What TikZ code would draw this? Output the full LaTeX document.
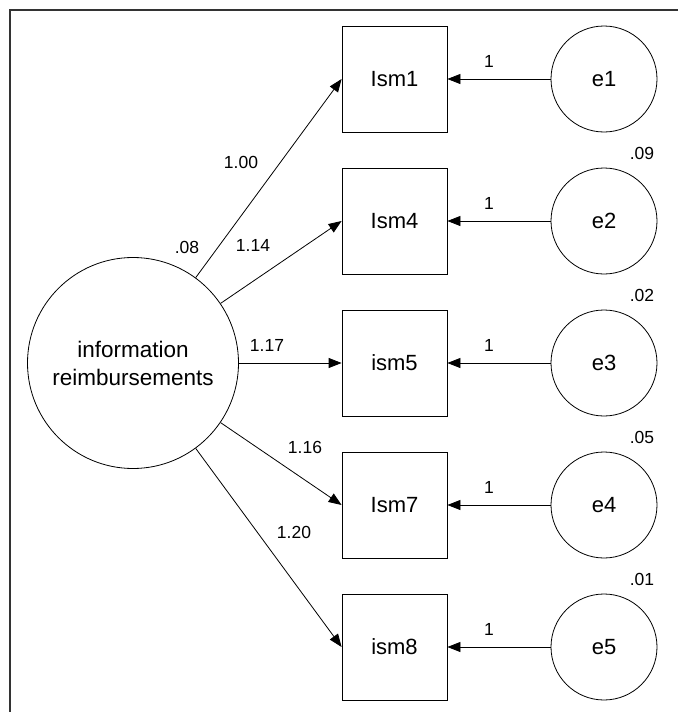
\documentclass[tikz,border=0pt]{standalone}
\usepackage{fontspec}
\setmainfont{Liberation Sans}
\usetikzlibrary{arrows.meta}
\begin{document}
\begin{tikzpicture}[x=1pt,y=-1pt,
  latent/.style={draw,circle,inner sep=0pt,line width=0.8pt},
  factor/.style={latent,minimum size=211pt,align=center,font=\fontsize{22.5}{28}\selectfont},
  obs/.style={draw,rectangle,minimum width=105pt,minimum height=106pt,inner sep=0pt,line width=0.8pt,font=\fontsize{22}{26}\selectfont},
  err/.style={latent,minimum size=106pt,font=\fontsize{22}{26}\selectfont},
  lbl/.style={font=\fontsize{17.5}{20}\selectfont,inner sep=0pt},
  arr/.style={line width=0.8pt,-{Triangle[length=13pt,width=10pt]}},
  frameline/.style={line width=1.5pt,black!80}]
\useasboundingbox (0,0) rectangle (678,712);
\draw[frameline] (10,712) -- (10,10) -- (678,10);

\node[factor] (F) at (133,363) {information\\reimbursements};

\node[obs] (b1) at (394.5,79) {Ism1};
\node[obs] (b2) at (394.5,221) {Ism4};
\node[obs] (b3) at (394.5,363) {ism5};
\node[obs] (b4) at (394.5,505) {Ism7};
\node[obs] (b5) at (394.5,647) {ism8};

\node[err] (e1) at (604,79) {e1};
\node[err] (e2) at (604,221) {e2};
\node[err] (e3) at (604,363) {e3};
\node[err] (e4) at (604,505) {e4};
\node[err] (e5) at (604,647) {e5};

\foreach \i in {1,...,5}{
  \draw[arr] (F) -- (b\i.west);
  \draw[arr] (e\i) -- (b\i);
}

\node[lbl] (one1) at (489,61) {1};
\node[lbl] (one2) at (489,203) {1};
\node[lbl] (one3) at (489,345) {1};
\node[lbl] (one4) at (489,487) {1};
\node[lbl] (one5) at (489,629) {1};

\node[lbl] (v2) at (642,153) {.09};
\node[lbl] (v3) at (642,295) {.02};
\node[lbl] (v4) at (642,437) {.05};
\node[lbl] (v5) at (642,579) {.01};
\node[lbl] (vF) at (187,247) {.08};

\node[lbl] (l1) at (241,162) {1.00};
\node[lbl] (l2) at (253,245) {1.14};
\node[lbl] (l3) at (267,345) {1.17};
\node[lbl] (l4) at (305,447) {1.16};
\node[lbl] (l5) at (294,532) {1.20};
\end{tikzpicture}
\end{document}
